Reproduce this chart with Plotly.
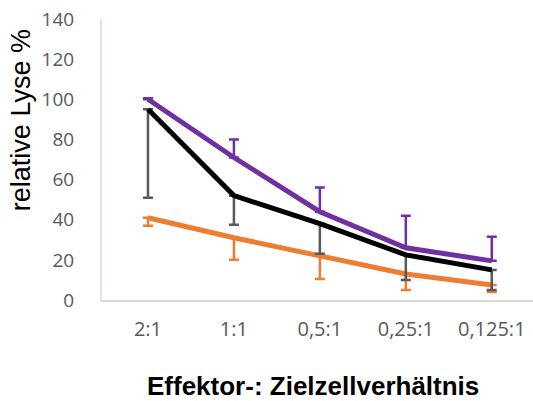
import plotly.graph_objects as go

categories = ["2:1", "1:1", "0,5:1", "0,25:1", "0,125:1"]

purple_vals = [100, 71, 44, 26, 19.5]
purple_err_plus = [0.5, 9, 12, 16, 12]

black_vals = [95, 52, 38, 22.5, 15]
black_err_minus = [44, 14.5, 15, 12.5, 10]

orange_vals = [41, 31, 22, 13, 7.5]
orange_err_minus = [4, 11, 11.5, 8, 3.5]

y_ticks = [0, 20, 40, 60, 80, 100, 120, 140]

x_idx = list(range(len(categories)))

fig = go.Figure()

fig.add_trace(go.Scatter(
    x=x_idx, y=orange_vals, mode="lines",
    line=dict(color="#ED7D31", width=5),
    error_y=dict(type="data", symmetric=False, array=[0]*5, arrayminus=orange_err_minus,
                 color="#ED7D31", thickness=2.5, width=5),
    showlegend=False))

fig.add_trace(go.Scatter(
    x=x_idx, y=black_vals, mode="lines",
    line=dict(color="#000000", width=5),
    error_y=dict(type="data", symmetric=False, array=[0]*5, arrayminus=black_err_minus,
                 color="#595959", thickness=2.5, width=5),
    showlegend=False))

fig.add_trace(go.Scatter(
    x=x_idx, y=purple_vals, mode="lines",
    line=dict(color="#7030A0", width=5),
    error_y=dict(type="data", symmetric=False, array=purple_err_plus, arrayminus=[0]*5,
                 color="#7030A0", thickness=2.5, width=5),
    showlegend=False))

fig.update_layout(
    width=533, height=401,
    margin=dict(l=102, r=0, t=19, b=101),
    paper_bgcolor="white", plot_bgcolor="white",
    xaxis=dict(
        tickmode="array", tickvals=x_idx, ticktext=categories,
        range=[-0.535, 4.48], showgrid=False, zeroline=False,
        showline=True, linecolor="#D9D9D9", linewidth=2,
        ticks="", ticklabelstandoff=10,
        tickfont=dict(family="Open Sans", size=20, color="#595959"),
    ),
    yaxis=dict(
        tickmode="array", tickvals=y_ticks,
        range=[0, 140], showgrid=False, zeroline=False,
        showline=True, linecolor="#DCE6F2", linewidth=2,
        ticks="", ticklabelstandoff=22,
        tickfont=dict(family="Open Sans", size=19, color="#595959"),
    ),
    annotations=[
        dict(text="relative Lyse %", xref="paper", yref="paper",
             x=0, y=0.64, xanchor="center", yanchor="middle",
             xshift=-81, textangle=-90, showarrow=False,
             font=dict(family="Liberation Sans", size=27, color="#000000")),
        dict(text="<b>Effektor-: Zielzellverhältnis</b>", xref="paper", yref="paper",
             x=0, y=0, yanchor="middle", xanchor="center", yshift=-86, xshift=211,
             showarrow=False,
             font=dict(family="Liberation Sans", size=26, color="#000000")),
    ],
)

fig.write_html("out.html")
